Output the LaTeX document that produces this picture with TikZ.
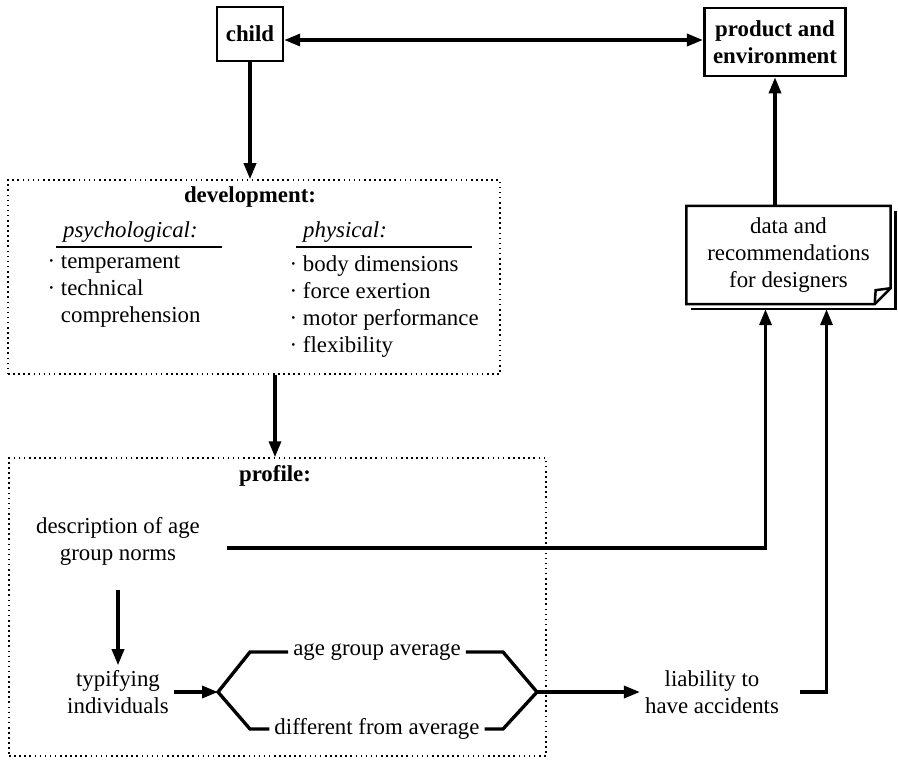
\documentclass[tikz,border=0pt]{standalone}
\usepackage{fontspec}
\setmainfont{Liberation Serif}
\usetikzlibrary{positioning,arrows.meta}

\begin{document}
\begin{tikzpicture}[x=0.02cm,y=-0.02cm,>={Triangle[length=3.2mm,width=2.4mm]},
  line width=1.9pt,
  every node/.style={font=\fontsize{13}{15.3}\selectfont,inner sep=2pt},
  box/.style={draw,line width=1.5pt,align=center,inner sep=5pt,font=\fontsize{13}{15.3}\selectfont\bfseries},
  dotbox/.style={draw,dotted,line width=0.9pt,inner sep=0pt},
  head/.style={font=\fontsize{13}{15.3}\selectfont\bfseries},
  lbl/.style={align=center},
  sheet/.style={line width=1.4pt}]
\useasboundingbox (0,0) rectangle (898,762);

\node[box,minimum width=1.2cm,minimum height=1.08cm] (child) at (250,34) {child};
\node[box,minimum width=2.04cm,minimum height=1.36cm] (prod) at (775,42) {product and\\environment};
\coordinate (top) at (0,40);
\draw[<->] (child.east |- top) -- (prod.west |- top);

\node[dotbox,minimum width=9.84cm,minimum height=3.88cm] (dev) at (254,277) {};
\node[head] (devt) at (250,197) {development:};
\draw[->] (child) -- (child |- dev.north);
\node[anchor=west] (psy) at (58,232) {\textit{psychological:}};
\node[anchor=west] (phy) at (298,232) {\textit{physical:}};
\draw[sheet] (56,247) -- (222,247);
\draw[sheet] (296,247) -- (472,247);
\node[anchor=north west,align=left,inner sep=0pt] (psyl) at (46,254) {· temperament\\· technical\\\phantom{· }comprehension};
\node[anchor=north west,align=left,inner sep=0pt] (phyl) at (288,254) {· body dimensions\\· force exertion\\· motor performance\\· flexibility};

\node[dotbox,minimum width=10.74cm,minimum height=5.96cm] (prof) at (277.5,607) {};
\node[head] (proft) at (275,476) {profile:};
\draw[->] (dev.south -| proft) -- (prof.north -| proft);
\node[lbl] (desc) at (118,541) {description of age\\group norms};
\node[lbl] (typ) at (118,692) {typifying\\individuals};
\draw[->,shorten <=0.4cm] (desc) -- (typ);

\coordinate (fork) at (218,692);
\coordinate (join) at (537,692);
\draw[->] (typ) -- (fork);
\node (avg) at (377,652) {age group average};
\node (dif) at (377,729) {different from average};
\draw (avg.west) -- (250,652) -- (fork) -- (250,729) -- (dif.west);
\draw (avg.east) -- (503,652) -- (join) -- (503,729) -- (dif.east);
\node[lbl] (liab) at (712,692) {liability to\\have accidents};
\draw[->] (join) -- (liab);

\node[lbl,minimum width=4.02cm,minimum height=1.9cm] (data) at (788.5,255) {data and\\recommendations\\for designers};
\draw[sheet] ([shift={(5,5)}]data.north east) |- ([shift={(5,5)}]data.south west);
\draw[sheet] (data.north west) -- (data.north east) -- ([shift={(0,-16)}]data.south east)
  -- ([shift={(-16,0)}]data.south east) -- (data.south west) -- cycle;
\draw[sheet] ([shift={(0,-16)}]data.south east) -- ([shift={(-15,-14)}]data.south east) -- ([shift={(-16,0)}]data.south east);
\draw[->] (data.north -| prod) -- (prod);
\draw[->,shorten <=0.45cm] ([yshift=-4]desc.east) -| ([shift={(-23,5)}]data.south);
\draw[->,shorten <=0.32cm] (liab.east) -| ([shift={(38,5)}]data.south);
\end{tikzpicture}
\end{document}
